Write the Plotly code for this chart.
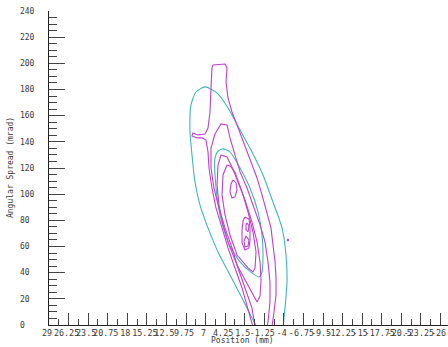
import plotly.graph_objects as go

# ---- axis ticks ----
x_tick_vals = [29, 26.25, 23.5, 20.75, 18, 15.25, 12.5, 9.75, 7, 4.25, 1.5,
               -1.25, -4, -6.75, -9.5, -12.25, -15, -17.75, -20.5, -23.25, -26]
x_tick_text = ["29", "26.25", "23.5", "20.75", "18", "15.25", "12.5", "9.75", "7", "4.25", "1.5",
               "-1.25", "-4", "-6.75", "-9.5", "-12.25", "-15", "-17.75", "-20.5", "-23.25", "-26"]
y_tick_vals = [0, 20, 40, 60, 80, 100, 120, 140, 160, 180, 200, 220, 240]
y_tick_text = ["0", "20", "40", "60", "80", "100", "120", "140", "160", "180", "200", "220", "240"]

# ---- contour lines (Position mm, Angular spread mrad) ----
teal_outer_x = [-0.23, 0.48, 1.88, 3.57, 5.25, 6.66, 7.78, 8.49, 8.91, 9.19, 9.05, 8.35, 7.08,
                5.39, 3.85, 2.16, 0.48, -1.07, -2.47, -3.74, -4.30, -4.44, -4.16, -3.88]
teal_outer_y = [-1.5, 5.4, 20.6, 38.2, 55.8, 74.2, 91.7, 109.3, 130.0, 147.5, 168.2, 178.1, 182.0,
                177.4, 165.9, 149.1, 132.3, 114.7, 94.0, 74.2, 53.5, 32.9, 13.0, -1.5]

teal_inner_x = [4.55, 3.57, 2.16, 0.76, -0.37, -0.93, -1.07, -0.93, -0.51, 0.48, 2.16, 3.85,
                4.97, 5.53, 5.68, 5.25, 4.55]
teal_inner_y = [134.6, 132.3, 120.0, 104.7, 86.4, 68.8, 53.5, 40.5, 36.7, 39.8, 48.2, 63.5,
                84.1, 104.7, 127.7, 133.0, 134.6]

mag1_x = [0.34, 1.04, 1.88, 2.87, 3.85, 4.69, 5.53, 6.10, 6.52, 6.66, 6.94, 7.50, 8.20, 8.91,
          8.77, 8.06, 7.08, 6.66, 6.38, 6.24, 6.10, 5.96, 4.27, 3.99, 4.13, 3.85, 3.29, 2.58,
          1.88, 1.18, 0.48, -0.23, -0.93, -1.63, -2.19, -2.47, -2.76, -2.90, -2.90, -2.61, -2.33]
mag1_y = [-1.5, 13.0, 28.3, 43.6, 58.9, 74.2, 89.4, 104.7, 120.0, 132.3, 141.4, 143.0, 143.0, 144.5,
          146.8, 145.3, 146.0, 150.6, 162.8, 181.2, 196.5, 198.8, 199.5, 196.5, 185.8, 173.5, 162.8, 152.9,
          143.0, 132.3, 122.3, 112.4, 99.4, 86.4, 74.2, 61.2, 48.2, 35.9, 22.9, 9.9, -1.5]

mag2_x = [0.05, 0.48, 1.46, 2.44, 3.29, 4.27, 5.11, 5.82, 6.24, 6.24, 5.68, 4.83, 3.99, 3.57,
          2.87, 2.16, 1.18, 0.34, -0.65, -1.35, -1.77, -2.05, -2.05, -1.77, -1.63]
mag2_y = [-1.5, 13.0, 28.3, 43.6, 58.9, 74.2, 89.4, 104.7, 120.0, 135.3, 146.0, 153.7, 152.9, 143.0,
          130.0, 117.0, 104.7, 91.7, 76.5, 63.5, 48.2, 32.9, 17.6, 2.3, -1.5]

mag3_x = [4.83, 5.25, 5.39, 5.11, 4.55, 3.71, 2.58, 1.32, 0.34, -0.23, -0.65, -0.79, -0.65, -0.23,
          0.48, 1.46, 2.44, 3.29, 3.99, 4.83]
mag3_y = [130.0, 122.3, 107.0, 91.7, 76.5, 61.2, 45.9, 32.9, 22.9, 17.6, 22.2, 34.4, 48.2, 63.5,
          78.7, 95.6, 109.3, 120.8, 128.4, 130.0]

mag4_x = [3.99, 4.55, 4.69, 4.27, 3.57, 2.58, 1.04, 0.34, 0.05, -0.09, 0.34, 1.04, 1.88, 2.87,
          3.57, 3.99]
mag4_y = [122.3, 114.7, 99.4, 84.1, 68.8, 53.5, 43.6, 40.5, 43.6, 55.8, 71.1, 86.4, 101.7, 117.0,
          121.6, 122.3]

mag5_x = [3.15, 2.72, 2.58, 2.87, 3.29, 3.57, 3.43, 3.15]
mag5_y = [110.9, 108.6, 103.2, 97.9, 97.1, 101.7, 107.8, 110.9]

mag6_x = [1.46, 0.90, 0.76, 0.76, 0.90, 1.46, 1.88, 1.88, 1.74, 1.46]
mag6_y = [82.6, 81.0, 74.2, 65.0, 58.9, 57.3, 62.7, 72.6, 79.5, 82.6]

mag7_x = [1.18, 0.90, 1.04, 1.32, 1.32, 1.18]
mag7_y = [78.0, 75.7, 71.1, 72.6, 76.5, 78.0]

mag8_x = [1.32, 0.90, 1.04, 1.46, 1.60, 1.32]
mag8_y = [68.0, 65.0, 60.4, 59.6, 64.2, 68.0]

dot_x = [-4.58]
dot_y = [65.0]

TEAL = "#3fb6b6"
MAGENTA = "#c13fd0"
FONT = "DejaVu Sans Mono"
TXT = "#3a3a3a"

fig = go.Figure()
for xs, ys in [(teal_outer_x, teal_outer_y), (teal_inner_x, teal_inner_y)]:
    fig.add_trace(go.Scatter(x=xs, y=ys, mode="lines",
                             line=dict(color=TEAL, width=1.1, shape="spline", smoothing=0.6),
                             hoverinfo="skip"))
for xs, ys in [(mag1_x, mag1_y), (mag2_x, mag2_y), (mag3_x, mag3_y), (mag4_x, mag4_y),
               (mag5_x, mag5_y), (mag6_x, mag6_y), (mag7_x, mag7_y), (mag8_x, mag8_y)]:
    fig.add_trace(go.Scatter(x=xs, y=ys, mode="lines",
                             line=dict(color=MAGENTA, width=1.1),
                             hoverinfo="skip"))
fig.add_trace(go.Scatter(x=dot_x, y=dot_y, mode="markers",
                         marker=dict(color=MAGENTA, size=2.5), hoverinfo="skip"))

x_minor = [(a + b) / 2 for a, b in zip(x_tick_vals[:-1], x_tick_vals[1:])]

fig.update_layout(
    width=448, height=347,
    margin=dict(l=49, r=0, t=11, b=22, pad=0),
    paper_bgcolor="white", plot_bgcolor="white",
    showlegend=False,
    font=dict(family=FONT, size=8, color=TXT),
    xaxis=dict(
        range=[29, -27.06], showgrid=False, zeroline=False,
        showline=True, linecolor="#222", linewidth=1,
        ticks="inside", ticklen=12, tickwidth=1, tickcolor="#444",
        tickmode="array", tickvals=x_tick_vals, ticktext=x_tick_text,
        tickangle=0, tickfont=dict(family=FONT, size=8.4, color=TXT),
        ticklabeloverflow="allow", ticklabelshift=2,
        minor=dict(tickmode="array", tickvals=x_minor, ticks="inside", ticklen=6,
                   tickcolor="#444", tickwidth=1, showgrid=False),
    ),
    yaxis=dict(
        range=[0, 240], showgrid=False, zeroline=False,
        showline=True, linecolor="#222", linewidth=1,
        ticks="inside", ticklen=16, tickwidth=1, tickcolor="#444",
        tickmode="array", tickvals=y_tick_vals,
        ticktext=[t + "\u00a0" * (3 - len(t)) for t in y_tick_text],
        tickfont=dict(family=FONT, size=8, color=TXT),
        ticklabelstandoff=12,
        minor=dict(dtick=5, tick0=0, ticks="inside", ticklen=8,
                   tickcolor="#444", tickwidth=1, showgrid=False),
    ),
    annotations=[
        dict(text="Angular Spread (mrad)", textangle=-90, xref="paper", yref="paper",
             x=-0.0977, y=0.5, xanchor="center", yanchor="middle", showarrow=False,
             font=dict(family=FONT, size=8, color=TXT)),
        dict(text="Position (mm)", xref="paper", yref="paper",
             x=0.486, y=-0.048, xanchor="center", yanchor="middle", showarrow=False,
             font=dict(family=FONT, size=8, color=TXT)),
    ],
)

fig.write_html("out.html")
